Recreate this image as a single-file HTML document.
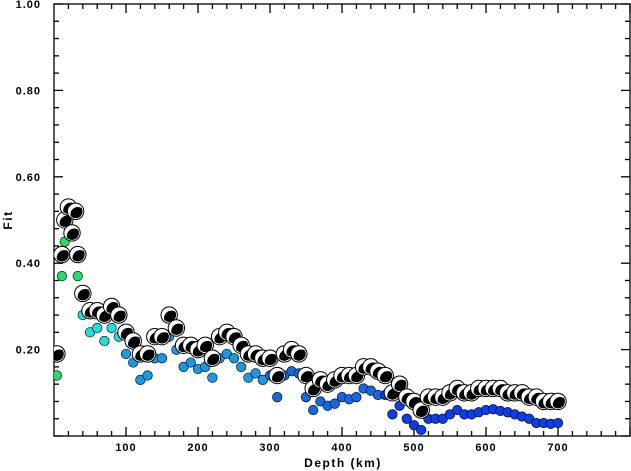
<!DOCTYPE html>
<html><head><meta charset="utf-8"><style>
html,body{margin:0;padding:0;background:#fff;}
svg{display:block;font-family:"Liberation Sans",sans-serif;font-weight:bold;}
</style></head><body>
<svg id="s" width="631" height="471" viewBox="0 0 631 471" xmlns="http://www.w3.org/2000/svg">
<defs><clipPath id="cp"><rect x="54" y="4" width="576" height="432"/></clipPath></defs>
<g id="ax" stroke="#000" stroke-width="1.3" fill="none"></g>
<g id="lab" font-size="11" letter-spacing="1" fill="#000"></g>
<text x="12" y="220" font-size="12" letter-spacing="1.5" transform="rotate(-90 12 220)" text-anchor="middle">Fit</text>
<text x="343" y="467" font-size="12" letter-spacing="1.5" text-anchor="middle">Depth (km)</text>
<g id="dat" clip-path="url(#cp)"></g>
</svg>
<script>
const X=d=>54+0.72*d, Y=f=>436-432*f;
const ns="http://www.w3.org/2000/svg";
function el(p,t,a){const e=document.createElementNS(ns,t);for(const k in a)e.setAttribute(k,a[k]);p.appendChild(e);return e;}
const ax=document.getElementById('ax'),lab=document.getElementById('lab'),dat=document.getElementById('dat');
el(ax,'rect',{x:54,y:4,width:576,height:432});
for(let v=0;v<=1.0001;v+=0.04){const y=Y(v);const maj=Math.abs(v*5-Math.round(v*5))<1e-6;const L=maj?9:5;
el(ax,'line',{x1:54,y1:y,x2:54+L,y2:y});el(ax,'line',{x1:630,y1:y,x2:630-L,y2:y});
if(maj&&v>0.1){const t=el(lab,'text',{x:41,y:y+4,'text-anchor':'end'});t.textContent=v.toFixed(2);}}
for(let d=20;d<=800;d+=20){const x=X(d);if(x>630)break;const maj=d%100==0;const L=maj?9:5;
el(ax,'line',{x1:x,y1:436,x2:x,y2:436-L});el(ax,'line',{x1:x,y1:4,x2:x,y2:4+L});
if(maj&&d<=700){const t=el(lab,'text',{x:x,y:451,'text-anchor':'middle'});t.textContent=d;}}
const big=[[4,.19],[11,.42],[15,.50],[20,.53],[25,.47],[30,.52],[33,.42],[40,.33],[50,.29],[60,.29],[70,.28],[80,.30],[90,.28],[100,.24],[110,.22],[120,.19],[130,.19],[140,.23],[150,.23],[160,.28],[170,.25],[180,.21],[190,.21],[200,.20],[210,.21],[220,.18],[230,.23],[240,.24],[250,.23],[260,.21],[270,.19],[280,.19],[290,.18],[300,.18],[310,.14],[320,.19],[330,.20],[340,.19],[350,.14],[360,.11],[370,.13],[380,.12],[390,.13],[400,.14],[410,.14],[420,.14],[430,.16],[440,.16],[450,.15],[460,.14],[470,.10],[480,.12],[490,.09],[500,.08],[510,.06],[520,.09],[530,.09],[540,.09],[550,.10],[560,.11],[570,.10],[580,.10],[590,.11],[600,.11],[610,.11],[620,.11],[630,.10],[640,.10],[650,.10],[660,.09],[670,.09],[680,.08],[690,.08],[700,.08]];
const small=[[4,.14],[11,.37],[15,.45],[25,.47],[33,.37],[40,.28],[50,.24],[60,.25],[70,.22],[80,.25],[90,.23],[100,.19],[110,.17],[120,.13],[130,.14],[140,.18],[150,.18],[160,.23],[170,.20],[180,.16],[190,.17],[200,.155],[210,.16],[220,.135],[230,.18],[240,.19],[250,.18],[260,.16],[270,.135],[280,.145],[290,.13],[300,.14],[310,.09],[320,.14],[330,.15],[340,.145],[350,.09],[360,.06],[370,.08],[380,.07],[390,.075],[400,.09],[410,.085],[420,.09],[430,.11],[440,.105],[450,.095],[460,.095],[470,.05],[480,.07],[490,.04],[500,.025],[510,.014],[520,.04],[530,.04],[540,.04],[550,.05],[560,.06],[570,.05],[580,.05],[590,.055],[600,.06],[610,.062],[620,.058],[630,.055],[640,.05],[650,.045],[660,.04],[670,.03],[680,.03],[690,.028],[700,.03]];
function col(d){if(d<35)return '#22dd66';if(d<100)return '#22dddd';if(d<300)return '#1a98e4';if(d<460)return '#1468e6';return '#0b3de8';}
for(const [d,f] of small){el(dat,'circle',{cx:X(d),cy:Y(f),r:4.8,fill:col(d),stroke:'#000','stroke-width':0.6});}
let i=0;
for(const [d,f] of big){const cx=X(d),cy=Y(f),r=8.2;i++;
const g=el(dat,'g',{});
el(g,'circle',{cx:cx,cy:cy,r:r,fill:'#fff',stroke:'#000','stroke-width':1});
const id='c'+i;const cp=el(g,'clipPath',{id:id});el(cp,'circle',{cx:cx,cy:cy,r:r-1.3});
el(g,'circle',{cx:cx+2.4,cy:cy+3.2,r:r-0.6,fill:'#000','clip-path':'url(#'+id+')'});}
</script>
</body></html>
